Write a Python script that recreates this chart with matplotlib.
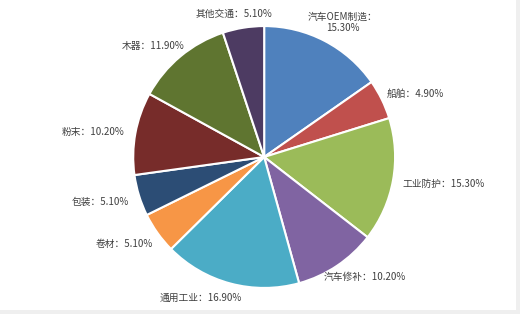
import matplotlib
matplotlib.use('Agg')
import matplotlib.pyplot as plt
import matplotlib.patches as mpatches
import numpy as np

plt.rcParams['font.family'] = ['Noto Sans CJK SC', 'DejaVu Sans']

# 数据（按顺时针，从12点方向开始）
categories = ['汽车OEM制造', '船舶', '工业防护', '汽车修补', '通用工业',
              '卷材', '包装', '粉末', '木器', '其他交通']
shares = [15.30, 4.90, 15.30, 10.20, 16.90, 5.10, 5.10, 10.20, 11.90, 5.10]
colors = ['#4F81BD', '#C0504D', '#9BBB59', '#8064A2', '#4BACC6',
          '#F79646', '#2C4D75', '#772C2A', '#5F7530', '#4D3B62']

labels = [f'{c}：{v:.2f}%' for c, v in zip(categories, shares)]
labels[0] = f'{categories[0]}：\n{shares[0]:.2f}%'

# 标签布局（径向距离、角度微调）
label_r = [1.19, 1.25, 1.39, 1.20, 1.18, 1.26, 1.30, 1.32, 1.20, 1.12]
label_dang = [-2.7, -3.4, 1.6, 6.2, -9.1, -3.5, -1.9, 2.1, 5.2, 2.8]

fig = plt.figure(figsize=(5.2, 3.14), dpi=100, facecolor='#EFEFEF')
# 白色图表区，右侧和底部留出浅灰边
fig.patches.append(mpatches.Rectangle((0, 4 / 314), 516 / 520, 1, transform=fig.transFigure,
                                      facecolor='white', edgecolor='none', zorder=-10))
ax = fig.add_axes([0.256, 0.083, 0.504, 0.834])
ax.patch.set_visible(False)

wedges, texts = ax.pie(shares, labels=labels, colors=colors, startangle=90,
                       counterclock=False,
                       wedgeprops=dict(linewidth=1.5, edgecolor='white'),
                       textprops=dict(fontsize=7, color='#404040'))
for w, t, r, da in zip(wedges, texts, label_r, label_dang):
    ang = np.deg2rad((w.theta1 + w.theta2) / 2 + da)
    t.set_position((r * np.cos(ang), r * np.sin(ang)))
    t.set_ha('center')
    t.set_va('center')
    t.set_multialignment('center')

ax.set_xlim(-1, 1)
ax.set_ylim(-1, 1)
ax.set_aspect('equal')

plt.savefig('out.png', dpi=100, facecolor=fig.get_facecolor())
